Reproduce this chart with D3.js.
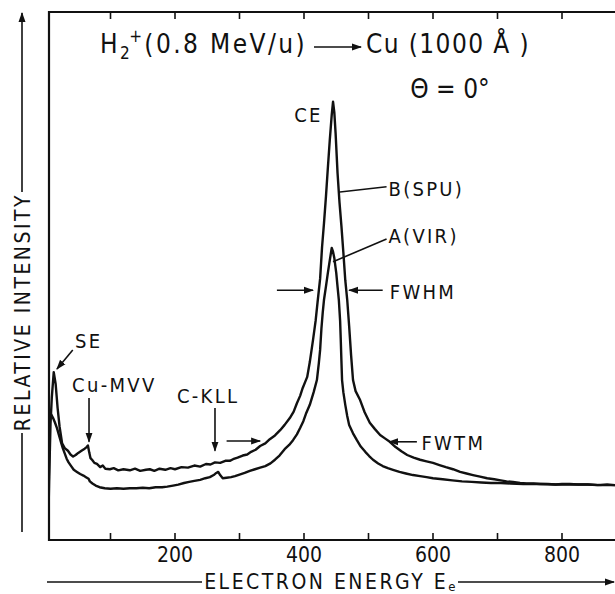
<!DOCTYPE html>
<html>
<head>
<meta charset="utf-8">
<script src="https://cdn.jsdelivr.net/npm/d3@7"></script>
<style>
  html, body { margin: 0; padding: 0; background: #fff; }
  svg text { font-family: "DejaVu Sans Condensed", "Liberation Sans Narrow", "DejaVu Sans", sans-serif; fill: #111; }
</style>
</head>
<body>
<div id="chart"></div>
<script>
// electron energy (eV), relative intensity (0..100 of frame height)
const specB = [ // B (SPU)
  [3,0],[5,12],[7,22],[9,27],[12,31.8],[15,29.5],[18,25],[21,21.5],[25,18.3],[29,17.4],[34,16.9],
  [38,16.2],[42,15.8],[46,16.1],[50,16.5],[55,16.9],[60,17.3],[63,17.6],[65,17.9],[67,16.6],
  [69,15.5],[72,15.1],[75,14.6],[79,14.4],[84,13.8],[88,14.1],[92,13.5],[99,13.4],[105,13.6],
  [112,13.2],[120,13.4],[130,13.2],[138,13.5],[146,13.1],[155,13.3],[161,13.4],[168,13.1],
  [176,13.5],[185,13.3],[193,13.6],[200,13.4],[210,13.8],[220,13.7],[230,14.1],[239,13.9],
  [248,14.4],[255,14.3],[262,14.7],[270,14.6],[278,15.0],[285,15.0],[290,15.3],[297,15.6],
  [305,16.0],[312,16.2],[318,16.7],[325,17.1],[332,17.8],[340,18.3],[347,19.1],[355,19.8],
  [363,20.8],[370,21.8],[378,23.1],[384,24.3],[389,25.9],[394,27.3],[398,28.8],[402,30.0],
  [405,30.9],[409,33.7],[414,37.9],[418,41.5],[421,45],[425,49.5],[428,55.5],[431,60],
  [434,65],[437,70.5],[440,75.8],[443,80.5],[445,83],[447,81],[449,77],[452,69.5],[455,64],
  [458,59.5],[461,54.5],[464,49.2],[467,45.5],[470,40.5],[473,35],[476,30.3],[480,28.2],
  [487,26.5],[494,24.2],[502,22.2],[510,21.0],[518,19.9],[526,19.2],[533,18.6],[542,17.6],
  [551,16.8],[560,16.1],[570,15.6],[580,15.2],[590,14.9],[600,14.6],[610,14.2],[620,13.8],
  [631,13.4],[642,12.9],[652,12.6],[662,12.3],[673,12.0],[684,11.7],[695,11.5],[705,11.3],
  [714,11.1],[724,11.0],[735,10.8],[745,10.7],[756,10.7],[766,10.6],[778,10.6],[790,10.5],
  [800,10.6],[812,10.6],[825,10.5],[840,10.5],[855,10.4],[870,10.5],[882,10.4],[900,10.4]
];
const specA = [ // A (VIR)
  [3,0],[4,8],[5,16],[6,24],[8,23.8],[11,23.1],[14,22.2],[17,21.2],[20,19.9],[23,18.6],[26,17.4],
  [29,16.4],[32,15.4],[35,14.7],[39,14.0],[43,13.3],[48,12.9],[53,12.5],[58,12.2],[62,11.9],
  [66,11.6],[68,11.1],[72,10.7],[77,10.3],[83,10.0],[91,9.8],[100,9.7],[110,9.8],[120,9.7],
  [130,9.8],[140,9.8],[150,9.9],[160,9.8],[170,10.0],[180,10.0],[188,10.1],[197,10.3],
  [205,10.5],[214,10.8],[222,11.0],[230,11.2],[239,11.4],[247,11.7],[254,11.9],[260,12.3],
  [264,12.7],[267,12.9],[270,12.3],[274,11.7],[280,11.8],[287,11.9],[293,12.1],[300,12.4],
  [308,12.7],[316,13.1],[324,13.4],[332,13.7],[340,14.0],[348,14.5],[355,15.2],[362,16.0],
  [370,17.2],[377,18.0],[383,18.9],[389,20.0],[394,21.2],[399,22.5],[403,23.9],[409,25.6],
  [415,28.0],[420,30.3],[423,33.5],[425,36],[427,40],[429,43],[431,45.5],[434,48],[437,50.6],
  [440,53],[443,55.3],[445,54.6],[447,53.4],[450,50.6],[452,48],[454,45.5],[456,41.5],
  [457,37.9],[458,34],[459,30.3],[461,28],[464,25.6],[467,23.5],[470,21.8],[476,20.2],
  [482,18.9],[488,17.7],[495,16.7],[501,15.9],[507,15.2],[515,14.5],[522,14.0],[530,13.6],
  [538,13.3],[548,12.9],[558,12.6],[569,12.3],[580,12.1],[590,11.9],[600,11.7],[615,11.5],
  [630,11.3],[645,11.1],[660,11.0],[675,10.9],[690,10.8],[705,10.8],[720,10.7],[740,10.6],
  [766,10.6],[790,10.5],[815,10.5],[840,10.5],[860,10.4],[882,10.4],[900,10.4]
];
const xTicks = [100, 200, 300, 400, 500, 600, 700, 800];
const xTickLabels = [200, 400, 600, 800];

const W = 615, H = 594;
const x = d3.scaleLinear().domain([0, 900]).range([46, 626.5]);
const y = d3.scaleLinear().domain([0, 100]).range([540, 12]);
const frameL = 49, frameT = 12, frameB = 540, frameR = 640;

const svg = d3.select('#chart').append('svg').attr('width', W).attr('height', H);

const defs = svg.append('defs');
defs.append('marker')
  .attr('id','arr').attr('viewBox','0 -4 10 8').attr('refX',9).attr('refY',0)
  .attr('markerWidth',10).attr('markerHeight',8).attr('markerUnits','userSpaceOnUse').attr('orient','auto')
  .append('path').attr('d','M0,-3.5L10,0L0,3.5Z').attr('fill','#111');
defs.append('clipPath').attr('id','clip')
  .append('rect').attr('x', frameL).attr('y', frameT).attr('width', frameR - frameL).attr('height', frameB - frameT);

// frame (left, top, bottom)
svg.append('path')
  .attr('d', `M${frameR},${frameT}H${frameL}V${frameB}H${frameR}`)
  .attr('fill','none').attr('stroke','#111').attr('stroke-width',2.2);

// ticks inward, top and bottom
svg.append('g').selectAll('line.tb').data(xTicks).join('line')
  .attr('x1', d => x(d)).attr('x2', d => x(d)).attr('y1', frameB).attr('y2', frameB - 7)
  .attr('stroke','#111').attr('stroke-width',1.6);
svg.append('g').selectAll('line.tt').data(xTicks).join('line')
  .attr('x1', d => x(d)).attr('x2', d => x(d)).attr('y1', frameT).attr('y2', frameT + 7)
  .attr('stroke','#111').attr('stroke-width',1.6);
svg.append('g').selectAll('text').data(xTickLabels).join('text')
  .attr('x', d => x(d)).attr('y', 562).attr('text-anchor','middle')
  .attr('font-size',21).text(d => d);

// spectra
const line = d3.line().x(d => x(d[0])).y(d => y(d[1]));
const g = svg.append('g').attr('clip-path','url(#clip)');
[specA, specB].forEach(s => {
  g.append('path').datum(s).attr('d', line)
    .attr('fill','none').attr('stroke','#111').attr('stroke-width',2.4).attr('stroke-linejoin','round');
});

// annotation helpers
function arrow(e1, i1, e2, i2) {
  svg.append('line').attr('x1', x(e1)).attr('y1', y(i1)).attr('x2', x(e2)).attr('y2', y(i2))
    .attr('stroke','#111').attr('stroke-width',1.6).attr('marker-end','url(#arr)');
}
function leader(e1, i1, e2, i2) {
  svg.append('line').attr('x1', x(e1)).attr('y1', y(i1)).attr('x2', x(e2)).attr('y2', y(i2))
    .attr('stroke','#111').attr('stroke-width',1.6);
}
function label(e, i, txt, anchor) {
  return svg.append('text').attr('x', x(e)).attr('y', y(i)).attr('text-anchor', anchor || 'start')
    .attr('font-size',20).attr('letter-spacing',2.3).text(txt);
}

label(45, 36.4, 'SE');
arrow(41.5, 36, 17, 32.4);
label(40.5, 28, 'Cu-MVV');
arrow(66.7, 26.9, 66.7, 18.6);
label(203, 25.9, 'C-KLL');
arrow(262, 25, 262, 16.9);
arrow(280, 18.75, 332, 18.75);
label(407, 79.2, 'CE', 'middle');
leader(455.8, 65.9, 528, 66.9);
label(531, 65.2, 'B(SPU)');
leader(445, 52.7, 528, 57);
label(531, 56.2, 'A(VIR)');
arrow(358, 47.3, 414, 47.3);
arrow(522, 47.3, 470, 47.3);
label(533, 45.6, 'FWHM');
arrow(575, 18.6, 532, 18.6);
label(582, 17.1, 'FWTM');

// title
const t = svg.append('text').attr('x', 100).attr('y', 53).attr('font-size', 26).attr('letter-spacing', 2.4);
t.append('tspan').text('H');
t.append('tspan').attr('font-size', 17).attr('dy', 6).text('2');
t.append('tspan').attr('font-size', 17).attr('dx', -3).attr('dy', -17).text('+');
t.append('tspan').attr('dy', 11).text('(0.8 MeV/u)');
svg.append('line').attr('x1', 314).attr('x2', 361).attr('y1', 47).attr('y2', 47)
  .attr('stroke','#111').attr('stroke-width',1.6).attr('marker-end','url(#arr)');
svg.append('text').attr('x', 366).attr('y', 53).attr('font-size', 26).attr('letter-spacing', 1.4).text('Cu (1000 Å )');
svg.append('text').attr('x', 450).attr('y', 98).attr('font-size', 26).attr('text-anchor','middle').text('Θ = 0°');

// y axis title with arrow line
svg.append('text').attr('transform','translate(30,312) rotate(-90)').attr('text-anchor','middle')
  .attr('font-size',21).attr('letter-spacing',2.5).text('RELATIVE INTENSITY');
svg.append('line').attr('x1',22).attr('x2',22).attr('y1',192).attr('y2',13)
  .attr('stroke','#111').attr('stroke-width',1.6).attr('marker-end','url(#arr)');
svg.append('line').attr('x1',22).attr('x2',22).attr('y1',433).attr('y2',532)
  .attr('stroke','#111').attr('stroke-width',1.6);

// x axis title with arrow line
const xt = svg.append('text').attr('x', 331).attr('y', 589).attr('text-anchor','middle')
  .attr('font-size',21).attr('letter-spacing',2.5);
xt.append('tspan').text('ELECTRON ENERGY E');
xt.append('tspan').attr('font-size',13).attr('dy',2).text('e');
svg.append('line').attr('x1',47).attr('x2',202).attr('y1',582).attr('y2',582)
  .attr('stroke','#111').attr('stroke-width',1.6);
svg.append('line').attr('x1',458).attr('x2',614).attr('y1',582).attr('y2',582)
  .attr('stroke','#111').attr('stroke-width',1.6).attr('marker-end','url(#arr)');
</script>
</body>
</html>
